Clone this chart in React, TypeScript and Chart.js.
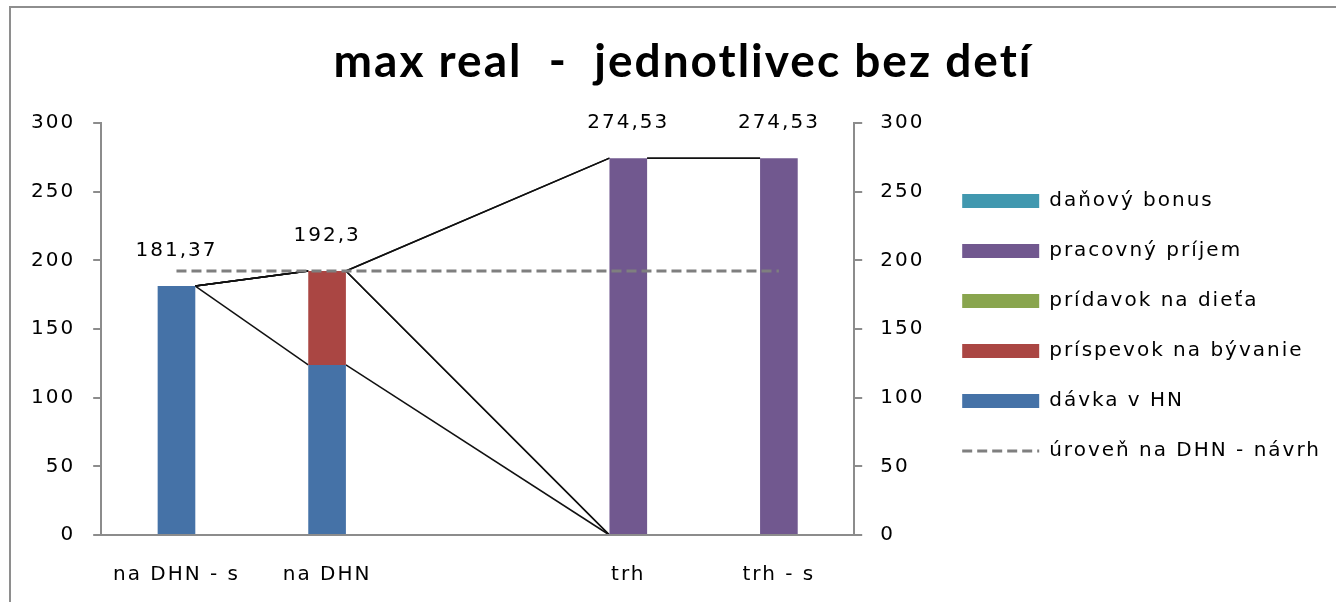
import React, { useEffect, useRef } from 'react';
import { Chart, registerables } from 'chart.js';

Chart.register(...registerables);

// ---- data ----
const categories: string[] = ['na DHN - s', 'na DHN', '', 'trh', 'trh - s'];
const davkaHN: (number | null)[] = [181.37, 123.9, null, 0, 0];
const prispevokByvanie: (number | null)[] = [0, 68.4, null, 0, 0];
const pridavokDieta: (number | null)[] = [0, 0, null, 0, 0];
const pracovnyPrijem: (number | null)[] = [0, 0, null, 274.53, 274.53];
const danovyBonus: (number | null)[] = [0, 0, null, 0, 0];
const urovenDHN: number[] = [192.3, 192.3, 192.3, 192.3, 192.3];

const seriesNames = {
  davka: 'dávka v HN',
  prispevok: 'príspevok na bývanie',
  pridavok: 'prídavok na dieťa',
  pracovny: 'pracovný príjem',
  bonus: 'daňový bonus',
  uroven: 'úroveň na DHN - návrh',
};

const yMin = 0;
const yMax = 300;
const yStep = 50;

const barSeries = [davkaHN, prispevokByvanie, pridavokDieta, pracovnyPrijem, danovyBonus];

const FONT = "'DejaVu Sans', Verdana, sans-serif";
const AXIS = '#8c8c8c';

const filledCols = () =>
  categories.map((_, i) => i).filter((i) => barSeries.some((s) => s[i] != null));

const fmt = (v: number) => String(Math.round(v * 100) / 100).replace('.', ',');

// wider text like the reference rendering + small layout nudges
const spacingPlugin = {
  id: 'letterSpacing',
  beforeUpdate(chart: any) {
    chart.ctx.letterSpacing = '2px';
  },
  beforeDraw(chart: any) {
    chart.ctx.letterSpacing = '2px';
  },
  afterLayout(chart: any) {
    if (chart.legend) chart.legend.bottom -= 6;
    if (chart.titleBlock) {
      chart.titleBlock.left += 11;
      chart.titleBlock.right += 11;
    }
  },
};

// Excel-like series lines connecting stacked segments of neighbouring columns
const seriesLinesPlugin = {
  id: 'seriesLines',
  beforeDraw(chart: any) {
    const ctx = chart.ctx;
    const cols = filledCols();
    ctx.save();
    ctx.strokeStyle = '#111';
    ctx.lineWidth = 1.5;
    for (let n = 0; n < cols.length - 1; n++) {
      const a = cols[n];
      const b = cols[n + 1];
      for (let k = 0; k < barSeries.length; k++) {
        const meta = chart.getDatasetMeta(k);
        const ea = meta.data[a];
        const eb = meta.data[b];
        if (!ea || !eb) continue;
        ctx.beginPath();
        ctx.moveTo(ea.x + ea.width / 2, ea.y);
        ctx.lineTo(eb.x - eb.width / 2, eb.y);
        ctx.stroke();
      }
    }
    ctx.restore();
  },
};

const totalLabelsPlugin = {
  id: 'totalLabels',
  afterDatasetsDraw(chart: any) {
    const ctx = chart.ctx;
    const yScale = chart.scales.y;
    const meta = chart.getDatasetMeta(0);
    ctx.save();
    ctx.font = `20px ${FONT}`;
    ctx.fillStyle = '#000';
    ctx.textAlign = 'center';
    ctx.textBaseline = 'middle';
    for (const i of filledCols()) {
      const total = barSeries.reduce((s, arr) => s + (arr[i] ?? 0), 0);
      const x = meta.data[i].x;
      const y = yScale.getPixelForValue(total) - 35;
      ctx.fillText(fmt(total), x, y);
    }
    ctx.restore();
  },
};

const legendRank: Record<number, number> = { 4: 0, 3: 1, 2: 2, 1: 3, 0: 4, 5: 5 };

export default function App() {
  const ref = useRef<HTMLCanvasElement>(null);

  useEffect(() => {
    if (!ref.current) return;
    const barCommon = { type: 'bar' as const, order: 1, borderWidth: 0, barPercentage: 0.25, categoryPercentage: 1 };
    const tickFont = { family: FONT, size: 20 };
    const chart = new Chart(ref.current, {
      data: {
        labels: categories,
        datasets: [
          { ...barCommon, label: seriesNames.davka, data: davkaHN, backgroundColor: '#4572A7' },
          { ...barCommon, label: seriesNames.prispevok, data: prispevokByvanie, backgroundColor: '#AA4643' },
          { ...barCommon, label: seriesNames.pridavok, data: pridavokDieta, backgroundColor: '#89A54E' },
          { ...barCommon, label: seriesNames.pracovny, data: pracovnyPrijem, backgroundColor: '#71588F' },
          { ...barCommon, label: seriesNames.bonus, data: danovyBonus, backgroundColor: '#4198AF' },
          {
            type: 'line' as const,
            order: 0,
            label: seriesNames.uroven,
            data: urovenDHN,
            borderColor: '#7f7f7f',
            backgroundColor: '#7f7f7f',
            borderWidth: 3,
            borderDash: [10, 5],
            pointRadius: 0,
            fill: false,
            yAxisID: 'y',
          },
        ] as any,
      },
      options: {
        responsive: false,
        animation: false,
        events: [],
        layout: { padding: { left: 13, right: 5, top: 0, bottom: 0 } },
        plugins: {
          tooltip: { enabled: false },
          title: {
            display: true,
            text: 'max real  -  jednotlivec bez detí',
            color: '#000',
            font: { family: "Lato, 'Open Sans', sans-serif", size: 46, weight: 'bold' },
            padding: { top: 35, bottom: 33 },
          },
          legend: {
            display: true,
            position: 'right',
            fullSize: false,
            align: 'center',
            maxWidth: 460,
            labels: {
              usePointStyle: true,
              pointStyleWidth: 77,
              boxHeight: 14,
              padding: 30,
              color: '#000',
              font: tickFont,
              sort: (a: any, b: any) => legendRank[a.datasetIndex] - legendRank[b.datasetIndex],
              generateLabels: (ch: any) =>
                ch.data.datasets.map((ds: any, i: number) => {
                  const isLine = ds.type === 'line';
                  return {
                    text: ds.label,
                    datasetIndex: i,
                    hidden: false,
                    fillStyle: isLine ? 'rgba(0,0,0,0)' : ds.backgroundColor,
                    strokeStyle: isLine ? ds.borderColor : ds.backgroundColor,
                    lineWidth: isLine ? 3 : 0,
                    lineDash: isLine ? [10, 5] : [],
                    pointStyle: isLine ? 'line' : 'rect',
                    fontColor: '#000',
                  };
                }),
            },
          },
        },
        scales: {
          x: {
            type: 'category',
            stacked: true,
            offset: true,
            grid: { display: false },
            border: { display: true, color: AXIS, width: 2 },
            ticks: { color: '#000', font: tickFont, padding: 20, maxRotation: 0, autoSkip: false },
            afterFit: (s: any) => {
              s.height = 67;
            },
          },
          y: {
            type: 'linear',
            position: 'left',
            stacked: true,
            min: yMin,
            max: yMax,
            grid: { drawOnChartArea: false, drawTicks: true, tickLength: 8, color: AXIS, lineWidth: 2 },
            border: { display: true, color: AXIS, width: 2 },
            ticks: { stepSize: yStep, color: '#000', font: tickFont, padding: 18 },
          },
          y2: {
            type: 'linear',
            position: 'right',
            min: yMin,
            max: yMax,
            grid: { drawOnChartArea: false, drawTicks: true, tickLength: 8, color: AXIS, lineWidth: 2 },
            border: { display: true, color: AXIS, width: 2 },
            ticks: { stepSize: yStep, color: '#000', font: tickFont, padding: 18 },
            afterFit: (s: any) => {
              s.width = 78;
            },
          },
        },
      } as any,
      plugins: [spacingPlugin, seriesLinesPlugin, totalLabelsPlugin],
    });
    return () => chart.destroy();
  }, []);

  return (
    <div
      style={{
        position: 'fixed',
        left: 0,
        top: 0,
        width: 1336,
        height: 602,
        background: '#fff',
        overflow: 'hidden',
      }}
    >
      <div
        style={{
          position: 'absolute',
          left: 9,
          top: 6,
          right: 0,
          bottom: 0,
          borderTop: '2px solid #8e8e8e',
          borderLeft: '2px solid #8e8e8e',
        }}
      />
      <canvas
        ref={ref}
        width={1336}
        height={602}
        style={{ position: 'absolute', left: 0, top: 0, width: 1336, height: 602 }}
      />
    </div>
  );
}
